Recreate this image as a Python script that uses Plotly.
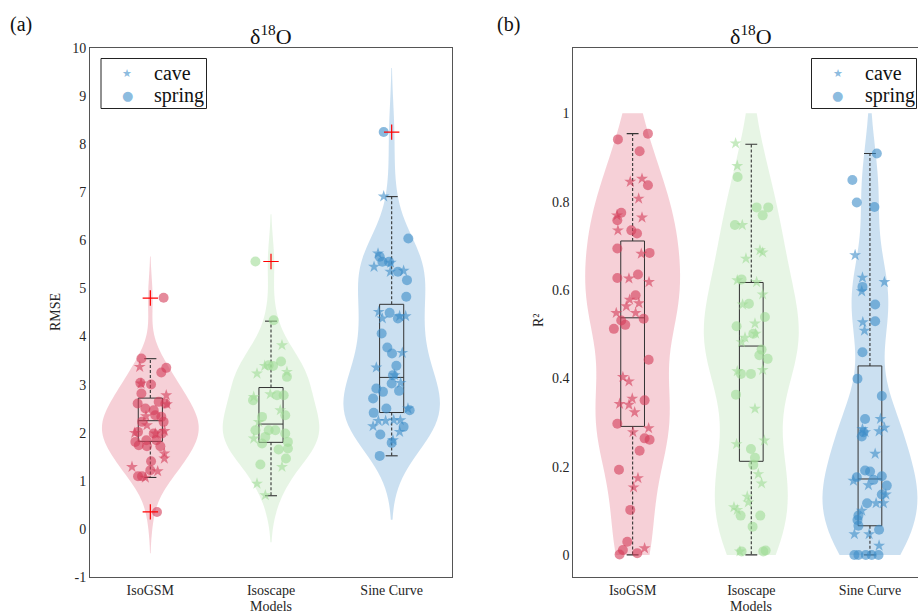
import plotly.graph_objects as go

# ---------------- data ----------------
categories = ["IsoGSM", "Isoscape", "Sine Curve"]
legend_labels = ["cave", "spring"]

# (a) RMSE  -- cave (stars) and spring (circles), with horizontal jitter offsets
rmse_cave = [
    [3.370, 3.023, 2.780, 2.593, 2.344, 2.156, 1.997, 2.038, 1.983, 1.567, 1.463, 1.289, 1.199, 1.067],
    [3.820, 3.390, 3.231, 3.266, 2.745, 2.801, 2.468, 2.225, 1.879, 1.289, 0.942, 0.700],
    [6.914, 5.728, 5.450, 5.534, 5.346, 5.367, 4.514, 4.376, 4.424, 4.424, 3.661, 3.356, 3.197,
     3.037, 2.503, 2.247, 2.247, 2.261, 2.261, 2.136, 2.018, 1.844],
]
rmse_cave_jit = [
    [-0.088, -0.077, 0.132, 0.138, -0.036, -0.028, -0.129, 0.118, 0.041, 0.116, 0.116, -0.152, 0.061, -0.041],
    [0.091, -0.052, -0.116, 0.132, -0.143, -0.006, 0.077, -0.102, -0.143, 0.091, -0.116, -0.047],
    [-0.066, -0.113, -0.146, -0.008, -0.011, 0.099, -0.107, -0.077, 0.066, 0.116, 0.088, -0.127, 0.025,
     0.074, 0.135, -0.110, -0.050, 0.017, 0.072, -0.154, 0.066, 0.011],
]
rmse_spring = [
    [4.805, 3.543, 3.349, 3.252, 3.037, 3.002, 2.815, 2.607, 2.503, 2.468, 2.642, 2.607, 2.330, 2.226,
     2.364, 2.226, 2.017, 1.983, 1.983, 1.809, 1.844, 1.844, 1.740, 1.719, 1.719, 1.407, 1.220, 1.095,
     1.095, 0.353],
    [5.561, 4.340, 3.481, 3.404, 3.390, 3.162, 2.676, 2.780, 2.780, 2.329, 2.364, 2.052, 2.052, 2.052,
     1.983, 1.775, 1.809, 1.650, 1.671, 1.463, 1.338, 1.913],
    [8.252, 6.040, 5.658, 5.554, 5.554, 5.346, 5.173, 4.826, 4.493, 4.376, 4.063, 3.772, 3.647, 3.391,
     3.197, 2.919, 2.850, 3.023, 2.871, 2.711, 2.503, 2.468, 2.413, 2.122, 1.962, 1.789, 1.518],
]
rmse_spring_jit = [
    [0.110, -0.074, 0.132, 0.091, -0.083, 0.006, -0.074, -0.105, -0.041, 0.028, 0.069, 0.124, 0.091, -0.069,
     0.041, 0.110, -0.102, 0.028, 0.096, -0.124, -0.033, 0.050, -0.096, -0.028, 0.083, 0.006, 0.000, -0.102,
     -0.069, 0.055],
    [-0.129, 0.022, 0.083, -0.019, 0.017, 0.132, -0.149, 0.050, 0.105, -0.074, 0.118, -0.129, -0.019, 0.036,
     0.118, -0.074, 0.140, 0.063, 0.140, 0.124, -0.088, -0.047],
    [-0.066, 0.138, -0.099, -0.077, -0.022, 0.052, 0.127, 0.121, -0.017, 0.052, -0.083, -0.036, 0.003, 0.039,
     0.011, -0.127, -0.072, 0.000, 0.061, -0.154, -0.044, 0.149, -0.149, 0.099, -0.094, 0.000, -0.099],
]
# box statistics
rmse_q1 = [1.82, 1.80, 2.42]
rmse_med = [2.25, 2.18, 3.15]
rmse_q3 = [2.72, 2.94, 4.67]
rmse_lo = [1.07, 0.69, 1.52]
rmse_hi = [3.54, 4.32, 6.91]
rmse_out = [[4.80, 0.355], [5.56], [8.25]]

# (b) R2
r2_cave = [
    [0.845, 0.852, 0.807, 0.764, 0.769, 0.735, 0.682, 0.626, 0.618, 0.578, 0.570, 0.563, 0.548, 0.548,
     0.403, 0.393, 0.354, 0.342, 0.340, 0.323, 0.287, 0.278, 0.174, 0.153, 0.015],
    [0.932, 0.881, 0.747, 0.690, 0.685, 0.671, 0.622, 0.618, 0.590, 0.567, 0.524, 0.492, 0.482, 0.501,
     0.416, 0.419, 0.331, 0.251, 0.259, 0.183, 0.162, 0.132, 0.119, 0.108, 0.102, 0.008],
    [0.679, 0.628, 0.618, 0.597, 0.527, 0.508, 0.308, 0.285, 0.288, 0.278, 0.280, 0.229, 0.168, 0.158,
     0.137, 0.117, 0.117, 0.100, 0.047, 0.047, 0.021],
]
r2_cave_jit = [
    [-0.020, 0.079, 0.051, 0.079, -0.132, -0.124, 0.073, -0.031, 0.138, -0.025, 0.053, -0.053, -0.138, 0.025,
     -0.082, -0.031, -0.003, -0.110, -0.031, 0.017, 0.135, 0.003, 0.045, 0.008, 0.101],
    [-0.132, -0.118, -0.076, 0.073, 0.096, -0.045, -0.118, 0.045, 0.096, -0.073, 0.031, -0.053, -0.082, 0.037,
     -0.118, 0.096, 0.031, -0.124, 0.110, 0.059, 0.087, -0.034, -0.025, -0.146, -0.118, -0.096],
    [-0.125, -0.063, 0.122, -0.069, -0.060, -0.046, 0.089, -0.063, 0.122, -0.041, 0.077, 0.044, -0.139, -0.013,
     0.134, 0.052, 0.114, -0.069, -0.131, -0.007, 0.077],
]
r2_spring = [
    [0.941, 0.954, 0.914, 0.837, 0.775, 0.758, 0.735, 0.728, 0.694, 0.684, 0.627, 0.635, 0.588, 0.531,
     0.512, 0.521, 0.535, 0.442, 0.350, 0.297, 0.264, 0.261, 0.236, 0.193, 0.102, 0.030, 0.011, 0.001, 0.004],
    [0.856, 0.787, 0.787, 0.769, 0.747, 0.624, 0.569, 0.539, 0.518, 0.501, 0.465, 0.452, 0.444, 0.410,
     0.410, 0.363, 0.240, 0.204, 0.220, 0.089, 0.089, 0.064, 0.008, 0.008, 0.010],
    [0.909, 0.849, 0.798, 0.788, 0.607, 0.567, 0.529, 0.459, 0.399, 0.360, 0.308, 0.278, 0.268, 0.178,
     0.191, 0.189, 0.170, 0.176, 0.157, 0.137, 0.117, 0.089, 0.079, 0.066, 0.057, 0.0, 0.0, 0.0, 0.0, 0.0],
]
r2_spring_jit = [
    [-0.124, 0.129, 0.059, 0.129, -0.096, -0.129, -0.011, 0.037, -0.129, 0.143, -0.129, 0.045, 0.025, -0.096,
     -0.158, -0.062, 0.093, 0.135, 0.101, -0.129, 0.101, 0.143, 0.059, -0.115, -0.020, -0.045, -0.082, -0.110, 0.039],
    [-0.115, 0.045, 0.143, 0.096, -0.138, -0.082, -0.020, 0.115, -0.124, 0.017, 0.087, 0.068, 0.138, -0.087,
     -0.003, -0.129, -0.003, 0.017, 0.031, -0.090, 0.076, 0.011, -0.082, 0.101, 0.121],
    [0.058, -0.148, -0.111, 0.038, -0.063, 0.044, 0.044, -0.063, -0.105, 0.100, -0.041, -0.055, -0.069, 0.100,
     -0.041, 0.001, 0.030, -0.111, 0.142, 0.100, -0.024, -0.097, -0.105, -0.097, 0.077, -0.131, -0.097, -0.035, 0.015, 0.072],
]
r2_q1 = [0.291, 0.212, 0.066]
r2_med = [0.537, 0.473, 0.172]
r2_q3 = [0.711, 0.617, 0.428]
r2_lo = [0.0, 0.0, 0.0]
r2_hi = [0.954, 0.930, 0.909]
r2_out = [[], [], []]

# ---------------- style ----------------
FONT = "Liberation Serif"
fills = ["rgba(230,120,140,0.35)", "rgba(170,220,160,0.28)", "rgba(110,170,215,0.36)"]
pts = ["rgba(212,60,88,0.60)", "rgba(160,220,150,0.60)", "rgba(60,140,200,0.60)"]
legend_col = "rgba(110,170,215,0.8)"
BOXCOL = "#333333"
W = 918
H = 616
MT, MB = 48, 39
PH = H - MT - MB


def px_x(p):
    return p / W


def px_y(p):
    return (H - MB - p) / PH


fig = go.Figure()


def add_panel(xa, ya, cave, cave_j, spring, spring_j, q1, med, q3, lo, hi, outs, bws, span):
    for i in range(3):
        pos = i + 1
        vals = cave[i] + spring[i]
        kw = dict(spanmode="soft") if span is None else dict(spanmode="manual", span=span)
        fig.add_trace(go.Violin(
            x0=pos, y=vals, width=0.8, bandwidth=bws[i], points=False, fillcolor=fills[i],
            line=dict(width=0, color="rgba(0,0,0,0)"), hoverinfo="skip", showlegend=False,
            xaxis=xa, yaxis=ya, **kw))
    for i in range(3):
        pos = i + 1
        h = 0.1
        c = 0.05
        fig.add_trace(go.Scatter(
            x=[pos - h, pos + h, pos + h, pos - h, pos - h, None, pos - h, pos + h],
            y=[q1[i], q1[i], q3[i], q3[i], q1[i], None, med[i], med[i]],
            mode="lines", line=dict(color=BOXCOL, width=1), showlegend=False, hoverinfo="skip",
            xaxis=xa, yaxis=ya))
        fig.add_trace(go.Scatter(
            x=[pos, pos, None, pos, pos], y=[q3[i], hi[i], None, q1[i], lo[i]],
            mode="lines", line=dict(color=BOXCOL, width=1.1, dash="3px,2px"), showlegend=False,
            hoverinfo="skip", xaxis=xa, yaxis=ya))
        fig.add_trace(go.Scatter(
            x=[pos - c, pos + c, None, pos - c, pos + c], y=[hi[i], hi[i], None, lo[i], lo[i]],
            mode="lines", line=dict(color=BOXCOL, width=1.1), showlegend=False,
            hoverinfo="skip", xaxis=xa, yaxis=ya))
    for i in range(3):
        pos = i + 1
        fig.add_trace(go.Scatter(
            x=[pos + j for j in spring_j[i]], y=spring[i], mode="markers",
            marker=dict(symbol="circle", size=10, color=pts[i], line=dict(width=0)),
            showlegend=False, hoverinfo="skip", xaxis=xa, yaxis=ya))
        fig.add_trace(go.Scatter(
            x=[pos + j for j in cave_j[i]], y=cave[i], mode="markers",
            marker=dict(symbol="star", size=9, color=pts[i], line=dict(width=0)),
            showlegend=False, hoverinfo="skip", xaxis=xa, yaxis=ya))
        if outs[i]:
            fig.add_trace(go.Scatter(
                x=[pos] * len(outs[i]), y=outs[i], mode="markers",
                marker=dict(symbol="cross-thin", size=11, color="red", line=dict(color="red", width=1.2)),
                showlegend=False, hoverinfo="skip", xaxis=xa, yaxis=ya))


add_panel("x", "y", rmse_cave, rmse_cave_jit, rmse_spring, rmse_spring_jit,
          rmse_q1, rmse_med, rmse_q3, rmse_lo, rmse_hi, rmse_out, [0.43, 0.49, 0.665], None)
add_panel("x2", "y2", r2_cave, r2_cave_jit, r2_spring, r2_spring_jit,
          r2_q1, r2_med, r2_q3, r2_lo, r2_hi, r2_out, [0.1, 0.1, 0.08], [0, 1])

axis_common = dict(showgrid=False, zeroline=False, showline=True, linecolor="#555555", linewidth=1,
                   ticks="", tickfont=dict(family=FONT, size=14, color="#262626"))

fig.update_layout(
    width=W, height=H, margin=dict(l=0, r=0, t=MT, b=MB),
    paper_bgcolor="white", plot_bgcolor="white", violinmode="overlay", showlegend=False,
    font=dict(family=FONT, color="#262626"),
    xaxis=dict(domain=[px_x(90), px_x(452)], range=[0.5, 3.5], tickvals=[1, 2, 3], ticktext=categories,
               mirror=True, anchor="y", **axis_common),
    yaxis=dict(domain=[0, 1], range=[-1, 10], tickvals=list(range(-1, 11)),
               ticktext=[str(v) for v in range(-1, 11)], mirror=True, anchor="x", **axis_common),
    xaxis2=dict(domain=[px_x(573.3), 1.0], range=[0.5, 3.405], tickvals=[1, 2, 3], ticktext=categories,
                mirror=True, anchor="y2", **axis_common),
    yaxis2=dict(domain=[0, 1], range=[-0.05, 1.148], tickvals=[0, 0.2, 0.4, 0.6, 0.8, 1],
                ticktext=["0", "0.2", "0.4", "0.6", "0.8", "1"], mirror=False, anchor="x2", **axis_common),
)

# legend boxes (one per panel), drawn as shapes + text
shapes = []
ann = []
for bx0, bx1 in [(101, 206.5), (811.5, 916.5)]:
    shapes.append(dict(type="rect", xref="paper", yref="paper", x0=px_x(bx0), x1=px_x(bx1),
                       y0=px_y(108.5), y1=px_y(58.5), line=dict(color="#222222", width=1),
                       fillcolor="white", layer="above"))
    sym_x = bx0 + 26
    txt_x = bx0 + 51
    for k, (glyph, gsize, gy) in enumerate([("★", 11, 73), ("●", 13, 96)]):
        ann.append(dict(x=px_x(sym_x), y=px_y(gy), xref="paper", yref="paper", text=glyph, showarrow=False,
                        font=dict(family="DejaVu Sans", size=gsize, color=legend_col),
                        xanchor="center", yanchor="middle"))
        ann.append(dict(x=px_x(txt_x), y=px_y(gy), xref="paper", yref="paper", text=legend_labels[k],
                        showarrow=False, font=dict(family=FONT, size=20, color="#111111"),
                        xanchor="left", yanchor="middle"))

for x, txt in [(271, "δ<sup>18</sup>O"), (751, "δ<sup>18</sup>O")]:
    ann.append(dict(x=px_x(x), y=px_y(35), xref="paper", yref="paper", text=txt, showarrow=False,
                    font=dict(family=FONT, size=22, color="#111111"), xanchor="center", yanchor="middle"))
for x, txt in [(21, "(a)"), (509, "(b)")]:
    ann.append(dict(x=px_x(x), y=px_y(24), xref="paper", yref="paper", text=txt, showarrow=False,
                    font=dict(family=FONT, size=20, color="#111111"), xanchor="center", yanchor="middle"))
for x in [271, 751]:
    ann.append(dict(x=px_x(x), y=px_y(606), xref="paper", yref="paper", text="Models", showarrow=False,
                    font=dict(family=FONT, size=14, color="#262626"), xanchor="center", yanchor="middle"))
ann.append(dict(x=px_x(55), y=px_y(312), xref="paper", yref="paper", text="RMSE", showarrow=False,
                textangle=-90, font=dict(family=FONT, size=14, color="#262626"),
                xanchor="center", yanchor="middle"))
ann.append(dict(x=px_x(538), y=px_y(320), xref="paper", yref="paper", text="R²", showarrow=False,
                textangle=-90, font=dict(family=FONT, size=14, color="#262626"),
                xanchor="center", yanchor="middle"))
fig.update_layout(annotations=ann, shapes=shapes)

fig.write_html("out.html", config={"displayModeBar": False},
               post_script="document.body.style.margin='0px';")
